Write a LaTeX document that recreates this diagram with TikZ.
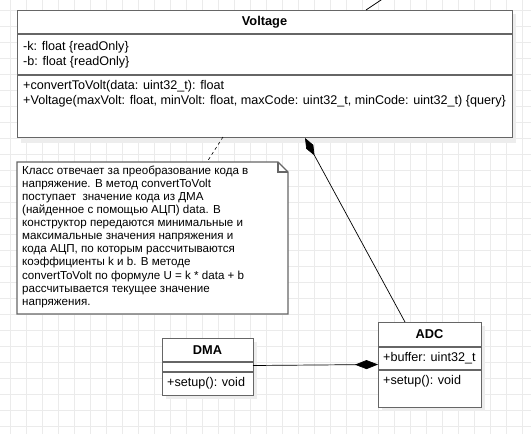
\documentclass[tikz,border=0pt]{standalone}
\usepackage{fontspec}
\setmainfont{Liberation Sans}
\usetikzlibrary{arrows.meta,calc}
\begin{document}
\begin{tikzpicture}[x=1pt,y=-1pt,
  box/.style={draw=black!60,line width=1.3pt,fill=white},
  shadowbox/.style={fill=black!7,draw=none},
  sep/.style={draw=black!60,line width=1.3pt},
  txt/.style={anchor=west,inner sep=0pt,font=\fontsize{12.6}{14}\selectfont},
  ttl/.style={inner sep=0pt,font=\fontsize{12.8}{14}\selectfont\bfseries},
  conn/.style={draw=black,line width=0.7pt},
  comp/.style={conn,{Diamond[fill=black,length=20pt,width=8pt]}-},
  gridline/.style={draw=black!8,line width=0.6pt}
]
\useasboundingbox (0,0) rectangle (531,434);
\fill[white] (0,0) rectangle (531,434);
\begin{scope}
\clip (0,0) rectangle (531,434);
\foreach \x in {10,26,...,530} \draw[gridline] (\x,0) -- (\x,434);
\foreach \y in {10,26,...,434} \draw[gridline] (0,\y) -- (531,\y);

% shadows
\fill[shadowbox] (21,14) rectangle (516,143);
\fill[shadowbox] (382,326) rectangle (485,411);
\fill[shadowbox] (166,342) rectangle (257,399);

% Voltage class
\node[box,minimum width=495pt,minimum height=127pt,anchor=north west,inner sep=0pt] (V) at (17,10) {};
\draw[sep] (17,34) -- (512,34);
\draw[sep] (17,75) -- (512,75);
\node[ttl] (Vt) at (264.5,22.5) {Voltage};
\node[txt] (Va1) at (23,47) {-k: float \{readOnly\}};
\node[txt] (Va2) at (23,62) {-b: float \{readOnly\}};
\node[txt] (Vm1) at (23,86) {+convertToVolt(data: uint32\_t): float};
\node[txt] (Vm2) at (23,101) {+Voltage(maxVolt: float, minVolt: float, maxCode: uint32\_t, minCode: uint32\_t) \{query\}};

% line leaving top right
\coordinate (Vtop) at (366,10);
\coordinate (offtop) at (384,-2);
\draw[conn] (Vtop) -- (offtop);

% Note
\draw[box,line width=1.1pt] (17,162) -- (278,162) -- (288,172) -- (288,314) -- (17,314) -- cycle;
\draw[draw=black!60,line width=1.1pt] (278,162) -- (278,172) -- (288,172);
\coordinate (N) at (207,162);
\node[anchor=north west,inner sep=0pt,align=left,font=\fontsize{11.6}{13.1}\selectfont] (Nt) at (22,165.5) {Класс отвечает за преобразование кода в\\
напряжение. В метод convertToVolt\\
поступает \ значение кода из ДМА\\
(найденное с помощью АЦП) data. В\\
конструктор передаются минимальные и\\
максимальные значения напряжения и\\
кода АЦП, по которым рассчитываются\\
коэффициенты k и b. В методе\\
convertToVolt по формуле U = k * data + b\\
рассчитывается текущее значение\\
напряжения.};
\coordinate (Vnote) at (223,137);
\draw[conn,dashed,dash pattern=on 3pt off 3pt,line width=0.6pt] (Vnote) -- (N);

% ADC class
\node[box,minimum width=103pt,minimum height=85pt,anchor=north west,inner sep=0pt] (ADC) at (378,322) {};
\draw[sep] (378,347) -- (481,347);
\draw[sep] (378,370) -- (481,370);
\node[ttl] (ADCt) at (429.5,334.5) {ADC};
\node[txt] (ADCa) at (383,358) {+buffer: uint32\_t};
\node[txt] (ADCm) at (383,381) {+setup(): void};

% DMA class
\node[box,minimum width=91pt,minimum height=57pt,anchor=north west,inner sep=0pt] (DMA) at (162,338) {};
\draw[sep] (162,362) -- (253,362);
\draw[sep] (162,372) -- (253,372);
\node[ttl] (DMAt) at (207.5,350) {DMA};
\node[txt] (DMAm) at (167,383) {+setup(): void};

% connectors
\coordinate (Vc) at (305,138);
\coordinate (ADCtop) at (405,322);
\draw[comp] (Vc) -- (ADCtop);
\coordinate (ADCl) at (378,364.5);
\coordinate (DMAr) at (253,365.5);
\draw[conn,{Diamond[fill=black,length=23pt,width=9pt]}-] (ADCl) -- (DMAr);
\end{scope}
\end{tikzpicture}
\end{document}
